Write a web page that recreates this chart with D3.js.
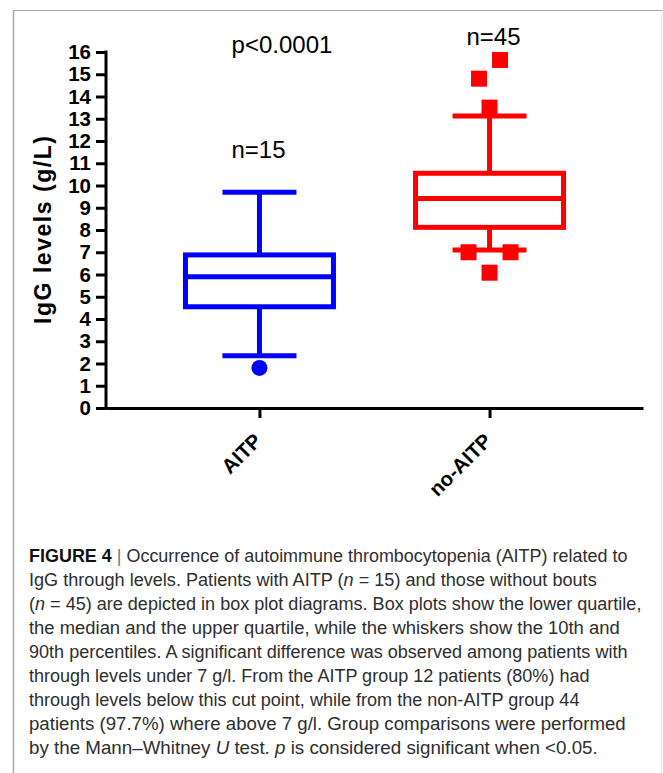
<!DOCTYPE html>
<html>
<head>
<meta charset="utf-8">
<script src="https://cdn.jsdelivr.net/npm/d3@7"></script>
<style>
body{margin:0;background:#ffffff;}
svg{display:block;}
</style>
</head>
<body>
<div id="fig4wrap"></div>
<script>
//values
var groups = ["AITP", "no-AITP"];
var counts = ["n=15", "n=45"];
var p10 = [2.35, 7.1];
var q1 = [4.55, 8.12];
var medians = [5.9, 9.42];
var q3 = [6.88, 10.55];
var p90 = [9.7, 13.12];
var outliers = [[1.8], [13.5, 14.8, 15.64, 7.0, 7.0, 6.08]];
var outlierSlots = [[0], [0, -1, 1, -2, 2, 0]]; //side-by-side placement of points that touch
var yTicks = d3.range(0, 17);
var pValue = "p<0.0001";
var yTitle = "IgG levels (g/L)";

//caption, one array of [text, style] runs per line
var caption = [
	[["FIGURE 4", "b"], [" | ", "sep"], ["Occurrence of autoimmune thrombocytopenia (AITP) related to", ""]],
	[["IgG through levels. Patients with AITP (", ""], ["n", "i"], [" = 15) and those without bouts", ""]],
	[["(", ""], ["n", "i"], [" = 45) are depicted in box plot diagrams. Box plots show the lower quartile,", ""]],
	[["the median and the upper quartile, while the whiskers show the 10th and", ""]],
	[["90th percentiles. A significant difference was observed among patients with", ""]],
	[["through levels under 7 g/l. From the AITP group 12 patients (80%) had", ""]],
	[["through levels below this cut point, while from the non-AITP group 44", ""]],
	[["patients (97.7%) where above 7 g/l. Group comparisons were performed", ""]],
	[["by the Mann\u2013Whitney ", ""], ["U", "i"], [" test. ", ""], ["p", "i"], [" is considered significant when <0.05.", ""]]
];
var captionEnds = [628, 597, 642, 620, 628, 590, 580, 626, 598];

var fig4 = {};
fig4.width = 663;
fig4.height = 773;
fig4.font = "'Liberation Sans', Arial, Helvetica, sans-serif";
fig4.cols = ["#0000ff", "#ff0000"];
fig4.countLevel = [11.25, 16.3]; //where the n= labels sit, in g/L

fig4.svg = d3.select("#fig4wrap").append("svg")
	.attr("width", fig4.width).attr("height", fig4.height)
	.style("font-family", fig4.font);

//page frame
fig4.svg.append("line").attr("x1", 13.5).attr("x2", 13.5).attr("y1", 10).attr("y2", fig4.height)
	.attr("stroke", "#a8a8a8").attr("stroke-width", 1.5);
fig4.svg.append("line").attr("x1", 13).attr("x2", fig4.width).attr("y1", 10.5).attr("y2", 10.5)
	.attr("stroke", "#a8a8a8").attr("stroke-width", 1.2);
fig4.svg.append("line").attr("x1", 661.5).attr("x2", 661.5).attr("y1", 10).attr("y2", fig4.height)
	.attr("stroke", "#e4e4e4").attr("stroke-width", 1);

fig4.y = d3.scaleLinear().domain([0, 16]).range([408, 52]);
fig4.x = d3.scalePoint().domain(groups).range([106, 643]).padding(0.667);

//y axis
var yax = fig4.svg.append("g").attr("transform", "translate(106,0)")
	.call(d3.axisLeft(fig4.y).tickValues(yTicks).tickSize(10).tickSizeOuter(0).tickPadding(5));
yax.select(".domain").attr("stroke", "#000").attr("stroke-width", 3).attr("d", "M0," + (fig4.y(16) - 1.5) + "V" + (fig4.y(0) + 1.5));
yax.selectAll(".tick line").attr("stroke", "#000").attr("stroke-width", 3);
yax.selectAll(".tick text").attr("font-size", 20.5).attr("font-weight", "bold").attr("fill", "#000")
	.style("font-family", fig4.font);

//x axis
var xax = fig4.svg.append("g").attr("transform", "translate(0,408)")
	.call(d3.axisBottom(fig4.x).tickSize(10).tickSizeOuter(0));
xax.select(".domain").attr("stroke", "#000").attr("stroke-width", 3);
xax.selectAll(".tick line").attr("stroke", "#000").attr("stroke-width", 3);
xax.selectAll(".tick text")
	.attr("y", 0).attr("dy", 0)
	.attr("transform", "translate(3,34) rotate(-45)")
	.attr("text-anchor", "end")
	.attr("font-size", 20.5).attr("font-weight", "bold").attr("fill", "#000")
	.style("font-family", fig4.font);

//axis title
fig4.svg.append("text")
	.attr("transform", "translate(51," + fig4.y(8) + ") rotate(-90)")
	.attr("text-anchor", "middle")
	.attr("font-size", 23).attr("font-weight", "bold")
	.attr("textLength", 188).attr("lengthAdjust", "spacing")
	.text(yTitle);

//box plots
var boxHalf = 74, capHalf = 37, lw = 5, slotW = 10.5;
var boxes = fig4.svg.append("g");
groups.forEach(function(g, i){
	var cx = fig4.x(g);
	var col = fig4.cols[i];
	var b = boxes.append("g").attr("stroke", col).attr("stroke-width", lw).attr("fill", "none");

	//whiskers and caps
	b.append("line").attr("x1", cx).attr("x2", cx).attr("y1", fig4.y(q3[i])).attr("y2", fig4.y(p90[i]));
	b.append("line").attr("x1", cx).attr("x2", cx).attr("y1", fig4.y(q1[i])).attr("y2", fig4.y(p10[i]));
	b.append("line").attr("x1", cx - capHalf).attr("x2", cx + capHalf).attr("y1", fig4.y(p90[i])).attr("y2", fig4.y(p90[i]));
	b.append("line").attr("x1", cx - capHalf).attr("x2", cx + capHalf).attr("y1", fig4.y(p10[i])).attr("y2", fig4.y(p10[i]));

	//box and median
	b.append("rect").attr("x", cx - boxHalf).attr("width", 2 * boxHalf)
		.attr("y", fig4.y(q3[i])).attr("height", fig4.y(q1[i]) - fig4.y(q3[i]));
	b.append("line").attr("x1", cx - boxHalf).attr("x2", cx + boxHalf).attr("y1", fig4.y(medians[i])).attr("y2", fig4.y(medians[i]));

	//points outside the whiskers
	var pts = outliers[i].map(function(v, k){return {v:v, s:outlierSlots[i][k]}});
	if(i == 0){
		boxes.selectAll("circle.out" + i).data(pts).enter().append("circle").classed("out" + i, true)
			.attr("cx", function(d){return cx + d.s * slotW})
			.attr("cy", function(d){return fig4.y(d.v)})
			.attr("r", 8).attr("fill", col);
	}
	else{
		boxes.selectAll("rect.out" + i).data(pts).enter().append("rect").classed("out" + i, true)
			.attr("x", function(d){return cx + d.s * slotW - 8})
			.attr("y", function(d){return fig4.y(d.v) - 8})
			.attr("width", 16).attr("height", 16).attr("fill", col);
	}

	//n= labels
	fig4.svg.append("text")
		.attr("x", cx + (i == 0 ? -1 : 4)).attr("y", fig4.y(fig4.countLevel[i]))
		.attr("text-anchor", "middle").attr("font-size", 24).attr("fill", "#000")
		.text(counts[i]);
});

//test result
fig4.svg.append("text").attr("x", 282).attr("y", fig4.y(16) + 1)
	.attr("text-anchor", "middle").attr("font-size", 24).attr("fill", "#000")
	.text(pValue);

//caption, each line squeezed horizontally to the width it has in the original
var cap = fig4.svg.append("g").attr("font-size", 18.5).attr("fill", "#2e2e2e");
caption.forEach(function(line, li){
	var t = cap.append("text").attr("x", 0).attr("y", 0);
	line.forEach(function(run){
		var ts = t.append("tspan").text(run[0]);
		if(run[1] == "b"){ts.attr("font-weight", "bold").attr("fill", "#111")}
		if(run[1] == "i"){ts.attr("font-style", "italic")}
		if(run[1] == "sep"){ts.attr("fill", "#777")}
	});
	var w = t.node().getComputedTextLength();
	var sx = (captionEnds[li] - 29) / w;
	t.attr("transform", "translate(29," + (562 + li * 24) + ") scale(" + sx + ",1)");
});
</script>
</body>
</html>
